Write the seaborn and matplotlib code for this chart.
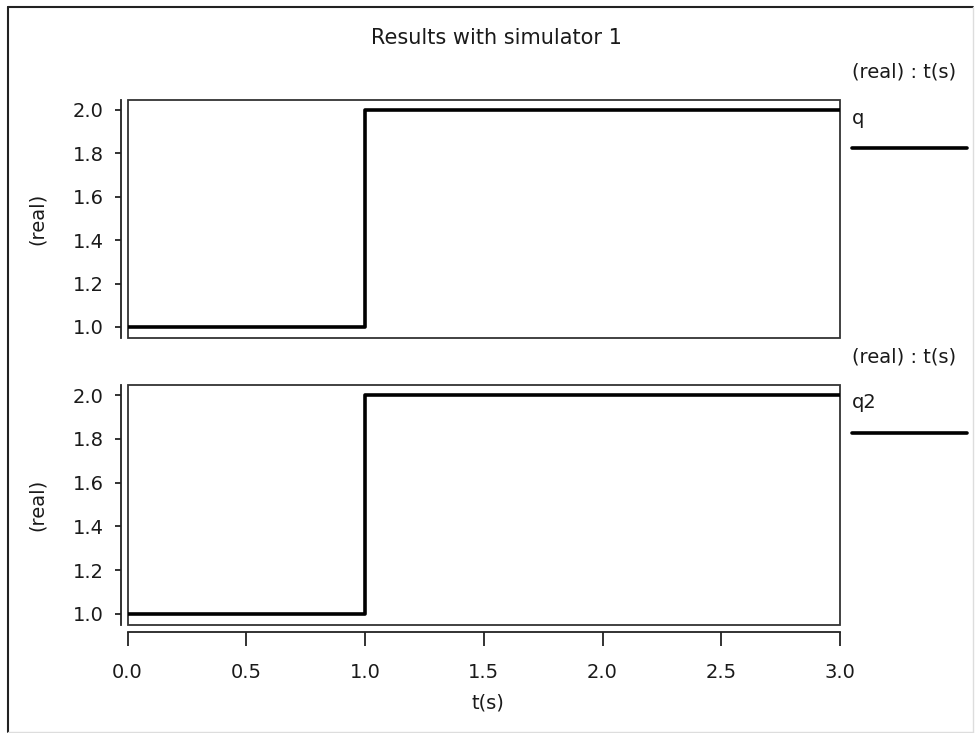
import seaborn as sns
import matplotlib.pyplot as plt
from matplotlib.patches import Rectangle
from matplotlib.lines import Line2D
from matplotlib.ticker import FormatStrFormatter

# data
t = [0.0, 1.0, 3.0]
q = [1.0, 2.0, 2.0]
q2 = [1.0, 2.0, 2.0]
series_names = ["q", "q2"]
y_ticks = [1.0, 1.2, 1.4, 1.6, 1.8, 2.0]
x_ticks = [0.0, 0.5, 1.0, 1.5, 2.0, 2.5, 3.0]

sns.set_theme(style="white")
plt.rcParams["font.family"] = ["DejaVu Sans"]
plt.rcParams["font.size"] = 14

W, H = 975, 733
fig = plt.figure(figsize=(W / 100, H / 100), dpi=100)


def fx(x):
    return x / W


def fy(y):
    return 1 - y / H


left, right = 127.5, 840
panels = [(100, 338), (385, 625)]
axes = []
for top, bottom in panels:
    ax = fig.add_axes([fx(left), fy(bottom), fx(right) - fx(left), (bottom - top) / H])
    axes.append(ax)

for ax, y, name, (top, bottom) in zip(axes, [q, q2], series_names, panels):
    sns.lineplot(x=t, y=y, drawstyle="steps-post", color="black", lw=2.6, ax=ax)
    ax.set_xlim(0, 3)
    ax.set_ylim(0.949, 2.046)
    ax.set_yticks(y_ticks)
    ax.yaxis.set_major_formatter(FormatStrFormatter("%.1f"))
    for s in ["top", "right", "bottom"]:
        ax.spines[s].set_visible(False)
    ax.spines["left"].set_position(("outward", 5))
    ax.spines["left"].set_color("#222222")
    ax.spines["left"].set_linewidth(1.3)
    ax.tick_params(axis="y", left=True, length=4, width=1.3, color="#222222",
                   pad=8, labelsize=14, labelcolor="#1a1a1a")
    ax.add_patch(Rectangle((0, 0), 1, 1, transform=ax.transAxes, fill=False,
                           edgecolor="#333333", lw=1.3, clip_on=False))
    ax.set_xlabel("")
    ax.set_ylabel("")
    # y label
    fig.text(fx(37), fy((top + bottom) / 2), "(real)", rotation=90,
             ha="center", va="center", fontsize=14, color="#1a1a1a")
    # legend-like labels on the right
    fig.text(fx(852), fy(top - 28), "(real) : t(s)", ha="left", va="center",
             fontsize=14, color="#1a1a1a")
    fig.text(fx(852), fy(top + 18), name, ha="left", va="center",
             fontsize=14, color="#1a1a1a")
    fig.add_artist(Line2D([fx(852), fx(967)], [fy(top + 48), fy(top + 48)],
                          color="black", lw=2.6))

axes[0].set_xticks([])
axes[0].tick_params(axis="x", bottom=False, labelbottom=False)

ax = axes[1]
ax.set_xticks(x_ticks)
ax.xaxis.set_major_formatter(FormatStrFormatter("%.1f"))
ax.spines["bottom"].set_visible(True)
ax.spines["bottom"].set_position(("outward", 5))
ax.spines["bottom"].set_color("#222222")
ax.spines["bottom"].set_linewidth(1.3)
ax.tick_params(axis="x", bottom=True, length=10, width=1.3, color="#222222",
               pad=12, labelsize=14, labelcolor="#1a1a1a")

fig.text(fx(488), fy(703), "t(s)", ha="center", va="center", fontsize=14, color="#1a1a1a")
fig.text(fx(496), fy(38), "Results with simulator 1", ha="center", va="center",
         fontsize=15, color="#1a1a1a")

# window frame
fig.add_artist(Line2D([fx(8), fx(8)], [fy(7), fy(732)], color="#222222", lw=1.5))
fig.add_artist(Line2D([fx(8), fx(973)], [fy(7), fy(7)], color="#222222", lw=1.5))
fig.add_artist(Line2D([fx(973), fx(973)], [fy(7), fy(732)], color="#dddddd", lw=1))
fig.add_artist(Line2D([fx(8), fx(973)], [fy(732), fy(732)], color="#dddddd", lw=1))

fig.savefig("out.png", dpi=100)
